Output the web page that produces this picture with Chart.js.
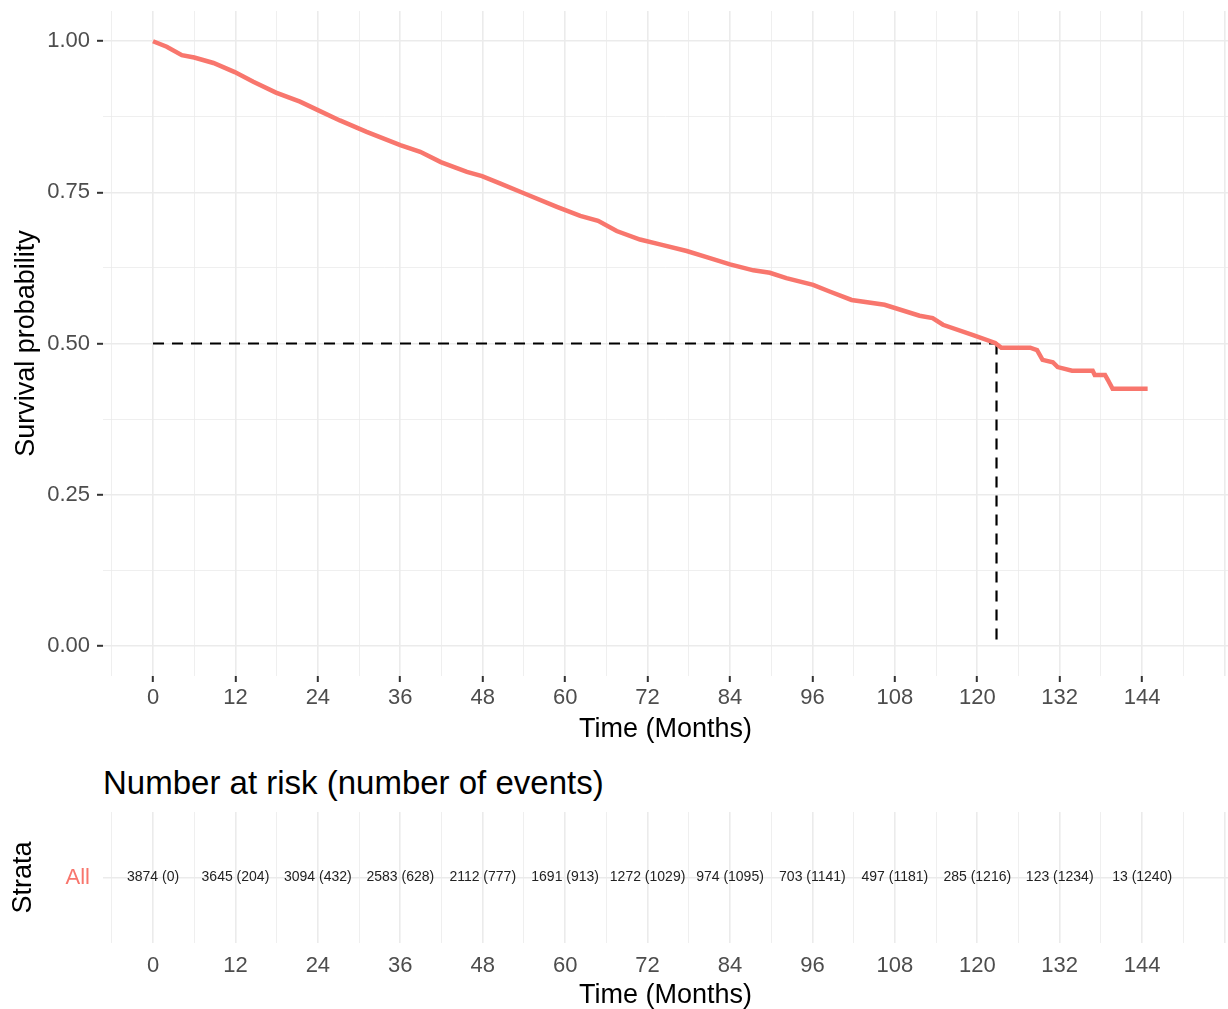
<!DOCTYPE html>
<html>
<head>
<meta charset="utf-8">
<script src="https://cdn.jsdelivr.net/npm/chart.js@4.4.1/dist/chart.umd.min.js"></script>
<style>
    body { margin: 0; background: #fff; }
    #wrap { position: relative; width: 1228px; height: 1009px; overflow: hidden; }
    #survChart { position: absolute; left: 0; top: 0; }
    #riskChart { position: absolute; left: 0; top: 800px; }
    #riskTitle {
        position: absolute; left: 103px; top: 766px;
        font: 33px 'Liberation Sans', Arial, sans-serif; line-height: 33px;
        color: #000; white-space: nowrap;
    }
</style>
</head>
<body>
<div id="wrap">
    <canvas id="survChart" width="1228" height="745"></canvas>
    <div id="riskTitle">Number at risk (number of events)</div>
    <canvas id="riskChart" width="1228" height="209"></canvas>
</div>
<script>
// Kaplan-Meier curve (months, survival)
const times = [0, 2, 4.2, 6, 8.8, 11.9, 14.6, 17.9, 21.4, 24, 27.2, 31.1, 36, 38.9, 41.9, 45.7, 47.9,
    50.5, 53.9, 58.8, 62.2, 64.8, 67.5, 70.9, 73.8, 77.7, 80.6, 84, 87.4, 89.8, 92.2, 96.1, 98.5,
    101.7, 106.5, 111.6, 113.5, 115, 119.4, 122.6, 123.5, 127.7, 128.7, 129.5, 131, 131.7, 133.8,
    136.8, 137.1, 138.6, 139, 139.7, 144.8];
const survival = [1.0, 0.991, 0.977, 0.973, 0.964, 0.949, 0.933, 0.915, 0.900, 0.886, 0.869, 0.850,
    0.828, 0.817, 0.800, 0.784, 0.777, 0.765, 0.749, 0.726, 0.711, 0.703, 0.686, 0.672, 0.664, 0.653,
    0.643, 0.631, 0.621, 0.617, 0.608, 0.597, 0.586, 0.572, 0.564, 0.546, 0.542, 0.531, 0.514, 0.501,
    0.493, 0.493, 0.489, 0.473, 0.469, 0.461, 0.455, 0.455, 0.448, 0.448, 0.440, 0.425, 0.425];
const medianTime = 122.8;

// risk table
const riskTimes = [0, 12, 24, 36, 48, 60, 72, 84, 96, 108, 120, 132, 144];
const atRisk = [3874, 3645, 3094, 2583, 2112, 1691, 1272, 974, 703, 497, 285, 123, 13];
const events = [0, 204, 432, 628, 777, 913, 1029, 1095, 1141, 1181, 1216, 1234, 1240];

// tick labels
const monthTicks = [0, 12, 24, 36, 48, 60, 72, 84, 96, 108, 120, 132, 144];
const probTicks = [0, 0.25, 0.5, 0.75, 1];

const FONT = "'Liberation Sans', Arial, sans-serif";
const RED = '#F8766D';
const GRID = '#EBEBEB';
const X_MIN = -7.28, X_MAX = 156.5;

Chart.defaults.font.family = FONT;
Chart.defaults.color = '#4D4D4D';

// grid every 6 months, every 0.125 on y
const monthGrid = [];
for (let m = -6; m <= 156; m += 6) monthGrid.push(m);
const probGrid = [];
for (let k = 0; k <= 8; k++) probGrid.push(k * 0.125);

const isMonthMajor = v => v % 12 === 0;
const isProbMajor = v => probTicks.includes(v);

// keep chart area edges where we put them (no label overhang padding)
function noPad(axis) {
    axis.paddingTop = 0;
    axis.paddingBottom = 0;
    axis.paddingLeft = 0;
    axis.paddingRight = 0;
}

function timeAxis(withTicks, pad) {
    return {
        type: 'linear',
        min: X_MIN,
        max: X_MAX,
        afterBuildTicks: axis => { axis.ticks = monthGrid.map(v => ({ value: v })); },
        afterFit: axis => { axis.height = withTicks ? 69 : 66; noPad(axis); },
        border: { display: false },
        grid: {
            color: GRID,
            lineWidth: c => isMonthMajor(c.tick.value) ? 1.6 : 0.8,
            drawTicks: withTicks,
            tickLength: 6,
            tickWidth: 2,
            tickColor: c => monthTicks.includes(c.tick.value) ? '#333333' : 'rgba(0,0,0,0)'
        },
        ticks: {
            autoSkip: false,
            maxRotation: 0,
            padding: pad,
            font: { size: 22 },
            color: '#4D4D4D',
            callback: v => monthTicks.includes(v) ? String(v) : ''
        },
        title: {
            display: true,
            text: 'Time (Months)',
            color: '#000',
            font: { size: 27, lineHeight: 1 },
            padding: { top: 0, bottom: withTicks ? 2 : 0 }
        }
    };
}

new Chart(document.getElementById('survChart'), {
    type: 'line',
    data: {
        datasets: [
            {
                data: times.map((t, i) => ({ x: t, y: survival[i] })),
                borderColor: RED,
                borderWidth: 4.5,
                pointRadius: 0,
                tension: 0,
                fill: false
            },
            {
                data: [{ x: 0, y: 0.5 }, { x: medianTime, y: 0.5 }],
                borderColor: '#000',
                borderWidth: 2.2,
                borderDash: [11, 8],
                pointRadius: 0
            },
            {
                data: [{ x: medianTime, y: 0.5 }, { x: medianTime, y: 0 }],
                borderColor: '#000',
                borderWidth: 2.2,
                borderDash: [11, 8],
                pointRadius: 0
            }
        ]
    },
    options: {
        responsive: false,
        animation: false,
        devicePixelRatio: 1,
        layout: { padding: { top: 11, left: 0, right: 0, bottom: 0 } },
        plugins: { legend: { display: false }, tooltip: { enabled: false } },
        scales: {
            x: timeAxis(true, 3),
            y: {
                type: 'linear',
                min: -0.05,
                max: 1.05,
                afterBuildTicks: axis => { axis.ticks = probGrid.map(v => ({ value: v })); },
                afterFit: axis => { axis.width = 103; noPad(axis); },
                border: { display: false },
                grid: {
                    color: GRID,
                    lineWidth: c => isProbMajor(c.tick.value) ? 1.6 : 0.8,
                    tickLength: 6,
                    tickWidth: 2,
                    tickColor: c => isProbMajor(c.tick.value) ? '#333333' : 'rgba(0,0,0,0)'
                },
                ticks: {
                    autoSkip: false,
                    padding: 7,
                    font: { size: 22 },
                    color: '#4D4D4D',
                    callback: v => isProbMajor(v) ? v.toFixed(2) : ''
                },
                title: {
                    display: true,
                    text: 'Survival probability',
                    color: '#000',
                    font: { size: 27, lineHeight: 1 },
                    padding: { top: 13.5, bottom: 0 }
                }
            }
        }
    }
});

// draw "n (events)" text at each risk point
const riskLabels = {
    id: 'riskLabels',
    afterDatasetsDraw(chart) {
        const meta = chart.getDatasetMeta(0);
        const c = chart.ctx;
        c.save();
        c.font = '14px ' + FONT;
        c.fillStyle = '#222222';
        c.textAlign = 'center';
        c.textBaseline = 'middle';
        meta.data.forEach((pt, i) => {
            c.fillText(`${atRisk[i]} (${events[i]})`, pt.x, pt.y);
        });
        c.restore();
    }
};

new Chart(document.getElementById('riskChart'), {
    type: 'scatter',
    data: {
        datasets: [{
            data: riskTimes.map(t => ({ x: t, y: 1 })),
            pointRadius: 0,
            showLine: false
        }]
    },
    options: {
        responsive: false,
        animation: false,
        devicePixelRatio: 1,
        layout: { padding: { top: 12, left: 0, right: 0, bottom: 0 } },
        plugins: { legend: { display: false }, tooltip: { enabled: false } },
        scales: {
            x: timeAxis(false, 10),
            y: {
                type: 'linear',
                min: 0,
                max: 2,
                afterBuildTicks: axis => { axis.ticks = [{ value: 1 }]; },
                afterFit: axis => { axis.width = 103; noPad(axis); },
                border: { display: false },
                grid: { color: GRID, lineWidth: 1.6, drawTicks: false },
                ticks: {
                    padding: 13,
                    font: { size: 22 },
                    color: RED,
                    callback: () => 'All'
                },
                title: {
                    display: true,
                    text: 'Strata',
                    color: '#000',
                    font: { size: 27, lineHeight: 1 },
                    padding: { top: 10.5, bottom: 0 }
                }
            }
        }
    },
    plugins: [riskLabels]
});
</script>
</body>
</html>
